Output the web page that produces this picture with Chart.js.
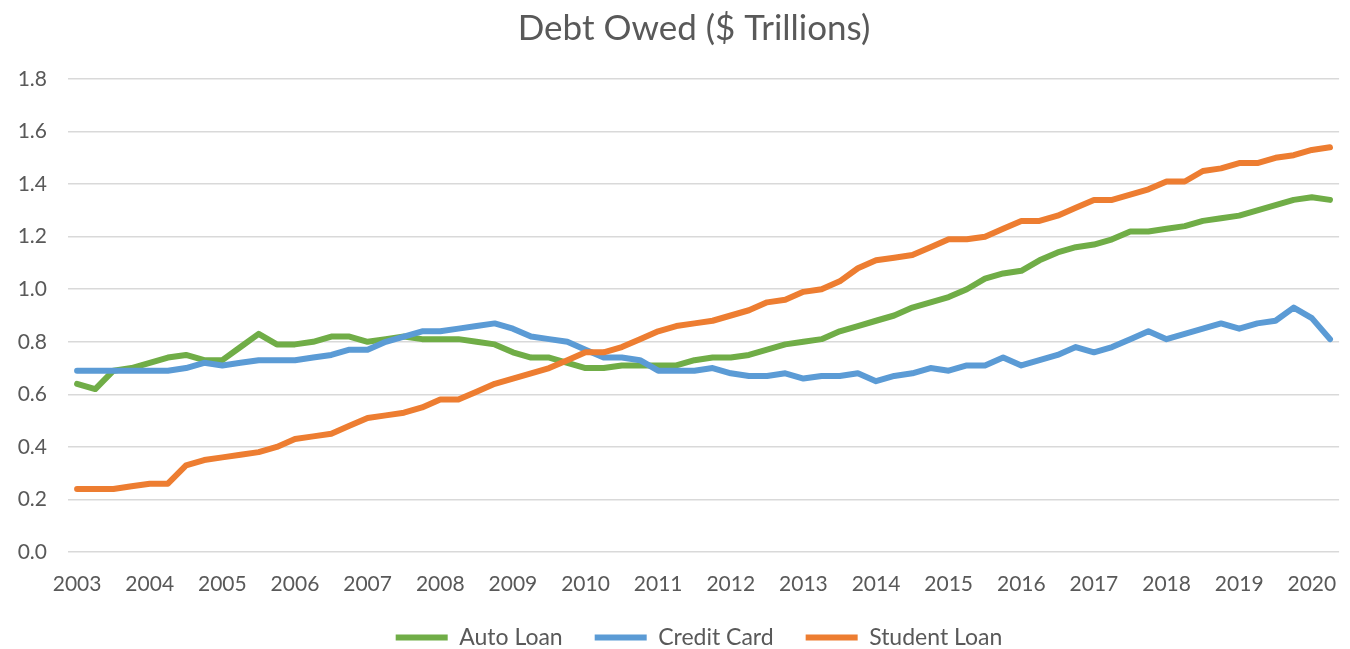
<!DOCTYPE html>
<html lang="en">

<head>
    <meta charset="UTF-8">
    <title>Debt Owed ($ Trillions)</title>
    <script src="https://cdn.jsdelivr.net/npm/chart.js"></script>
    <style>
        body { margin: 0; background: #ffffff; }
        canvas { display: block; }
    </style>
</head>

<body>
    <canvas id="debtChart" width="1350" height="649"></canvas>

    <script>
        // quarterly points, 2003 Q1 .. 2020 Q2
        const quarters = [
            '2003 Q1', '2003 Q2', '2003 Q3', '2003 Q4', '2004 Q1', '2004 Q2', '2004 Q3', '2004 Q4',
            '2005 Q1', '2005 Q2', '2005 Q3', '2005 Q4', '2006 Q1', '2006 Q2', '2006 Q3', '2006 Q4',
            '2007 Q1', '2007 Q2', '2007 Q3', '2007 Q4', '2008 Q1', '2008 Q2', '2008 Q3', '2008 Q4',
            '2009 Q1', '2009 Q2', '2009 Q3', '2009 Q4', '2010 Q1', '2010 Q2', '2010 Q3', '2010 Q4',
            '2011 Q1', '2011 Q2', '2011 Q3', '2011 Q4', '2012 Q1', '2012 Q2', '2012 Q3', '2012 Q4',
            '2013 Q1', '2013 Q2', '2013 Q3', '2013 Q4', '2014 Q1', '2014 Q2', '2014 Q3', '2014 Q4',
            '2015 Q1', '2015 Q2', '2015 Q3', '2015 Q4', '2016 Q1', '2016 Q2', '2016 Q3', '2016 Q4',
            '2017 Q1', '2017 Q2', '2017 Q3', '2017 Q4', '2018 Q1', '2018 Q2', '2018 Q3', '2018 Q4',
            '2019 Q1', '2019 Q2', '2019 Q3', '2019 Q4', '2020 Q1', '2020 Q2'
        ];

        const autoLoan = [
            0.64, 0.62, 0.69, 0.70, 0.72, 0.74, 0.75, 0.73, 0.73, 0.78, 0.83, 0.79, 0.79, 0.80, 0.82, 0.82,
            0.80, 0.81, 0.82, 0.81, 0.81, 0.81, 0.80, 0.79, 0.76, 0.74, 0.74, 0.72, 0.70, 0.70, 0.71, 0.71,
            0.71, 0.71, 0.73, 0.74, 0.74, 0.75, 0.77, 0.79, 0.80, 0.81, 0.84, 0.86, 0.88, 0.90, 0.93, 0.95,
            0.97, 1.00, 1.04, 1.06, 1.07, 1.11, 1.14, 1.16, 1.17, 1.19, 1.22, 1.22, 1.23, 1.24, 1.26, 1.27,
            1.28, 1.30, 1.32, 1.34, 1.35, 1.34
        ];
        const creditCard = [
            0.69, 0.69, 0.69, 0.69, 0.69, 0.69, 0.70, 0.72, 0.71, 0.72, 0.73, 0.73, 0.73, 0.74, 0.75, 0.77,
            0.77, 0.80, 0.82, 0.84, 0.84, 0.85, 0.86, 0.87, 0.85, 0.82, 0.81, 0.80, 0.77, 0.74, 0.74, 0.73,
            0.69, 0.69, 0.69, 0.70, 0.68, 0.67, 0.67, 0.68, 0.66, 0.67, 0.67, 0.68, 0.65, 0.67, 0.68, 0.70,
            0.69, 0.71, 0.71, 0.74, 0.71, 0.73, 0.75, 0.78, 0.76, 0.78, 0.81, 0.84, 0.81, 0.83, 0.85, 0.87,
            0.85, 0.87, 0.88, 0.93, 0.89, 0.81
        ];
        const studentLoan = [
            0.24, 0.24, 0.24, 0.25, 0.26, 0.26, 0.33, 0.35, 0.36, 0.37, 0.38, 0.40, 0.43, 0.44, 0.45, 0.48,
            0.51, 0.52, 0.53, 0.55, 0.58, 0.58, 0.61, 0.64, 0.66, 0.68, 0.70, 0.73, 0.76, 0.76, 0.78, 0.81,
            0.84, 0.86, 0.87, 0.88, 0.90, 0.92, 0.95, 0.96, 0.99, 1.00, 1.03, 1.08, 1.11, 1.12, 1.13, 1.16,
            1.19, 1.19, 1.20, 1.23, 1.26, 1.26, 1.28, 1.31, 1.34, 1.34, 1.36, 1.38, 1.41, 1.41, 1.45, 1.46,
            1.48, 1.48, 1.50, 1.51, 1.53, 1.54
        ];

        const textColor = '#595959';
        const fontFamily = 'Lato, "Open Sans", sans-serif';

        function seriesLine(label, data, color, order) {
            return {
                label: label,
                data: data,
                borderColor: color,
                backgroundColor: color,
                borderWidth: 6,
                borderCapStyle: 'round',
                borderJoinStyle: 'round',
                pointRadius: 0,
                pointHoverRadius: 0,
                pointStyle: 'line',
                tension: 0,
                fill: false,
                order: order
            };
        }

        // title and legend sit a little right of the canvas centre
        const blockShift = {
            id: 'blockShift',
            afterLayout(chart) {
                if (chart.titleBlock) {
                    chart.titleBlock.left += 19;
                    chart.titleBlock.right += 19;
                }
                if (chart.legend) {
                    chart.legend.left += 24;
                    chart.legend.right += 24;
                }
            }
        };

        new Chart(document.getElementById('debtChart'), {
            type: 'line',
            data: {
                labels: quarters,
                datasets: [
                    seriesLine('Auto Loan', autoLoan, '#70AD47', 3),
                    seriesLine('Credit Card', creditCard, '#5B9BD5', 2),
                    seriesLine('Student Loan', studentLoan, '#ED7D31', 1)
                ]
            },
            plugins: [blockShift],
            options: {
                responsive: false,
                animation: false,
                layout: { padding: { left: 0, right: 0, top: 0, bottom: -10 } },
                plugins: {
                    title: {
                        display: true,
                        text: 'Debt Owed ($ Trillions)',
                        color: textColor,
                        font: { family: fontFamily, size: 35, weight: 'normal' },
                        padding: { top: 8, bottom: 29 }
                    },
                    legend: {
                        position: 'bottom',
                        labels: {
                            usePointStyle: true,
                            pointStyle: 'line',
                            pointStyleWidth: 52,
                            color: textColor,
                            font: { family: fontFamily, size: 23 },
                            padding: 32,
                            sort: (a, b) => a.datasetIndex - b.datasetIndex
                        }
                    },
                    tooltip: { enabled: false }
                },
                scales: {
                    x: {
                        offset: true,
                        afterFit: function (scale) { scale.height = 42; },
                        grid: { display: false, drawTicks: false },
                        border: { display: false },
                        ticks: {
                            color: textColor,
                            font: { family: fontFamily, size: 21 },
                            autoSkip: false,
                            maxRotation: 0,
                            padding: 20,
                            // one year label per four quarters
                            callback: function (value, index) {
                                return index % 4 === 0 ? quarters[index].slice(0, 4) : '';
                            }
                        }
                    },
                    y: {
                        min: 0,
                        max: 1.8,
                        afterFit: function (scale) { scale.width = 68; },
                        grid: { color: '#d9d9d9', lineWidth: 1.5, drawTicks: false },
                        border: { display: false },
                        ticks: {
                            stepSize: 0.2,
                            color: textColor,
                            font: { family: fontFamily, size: 21 },
                            padding: 21,
                            callback: function (value) { return value.toFixed(1); }
                        }
                    }
                }
            }
        });
    </script>
</body>

</html>
